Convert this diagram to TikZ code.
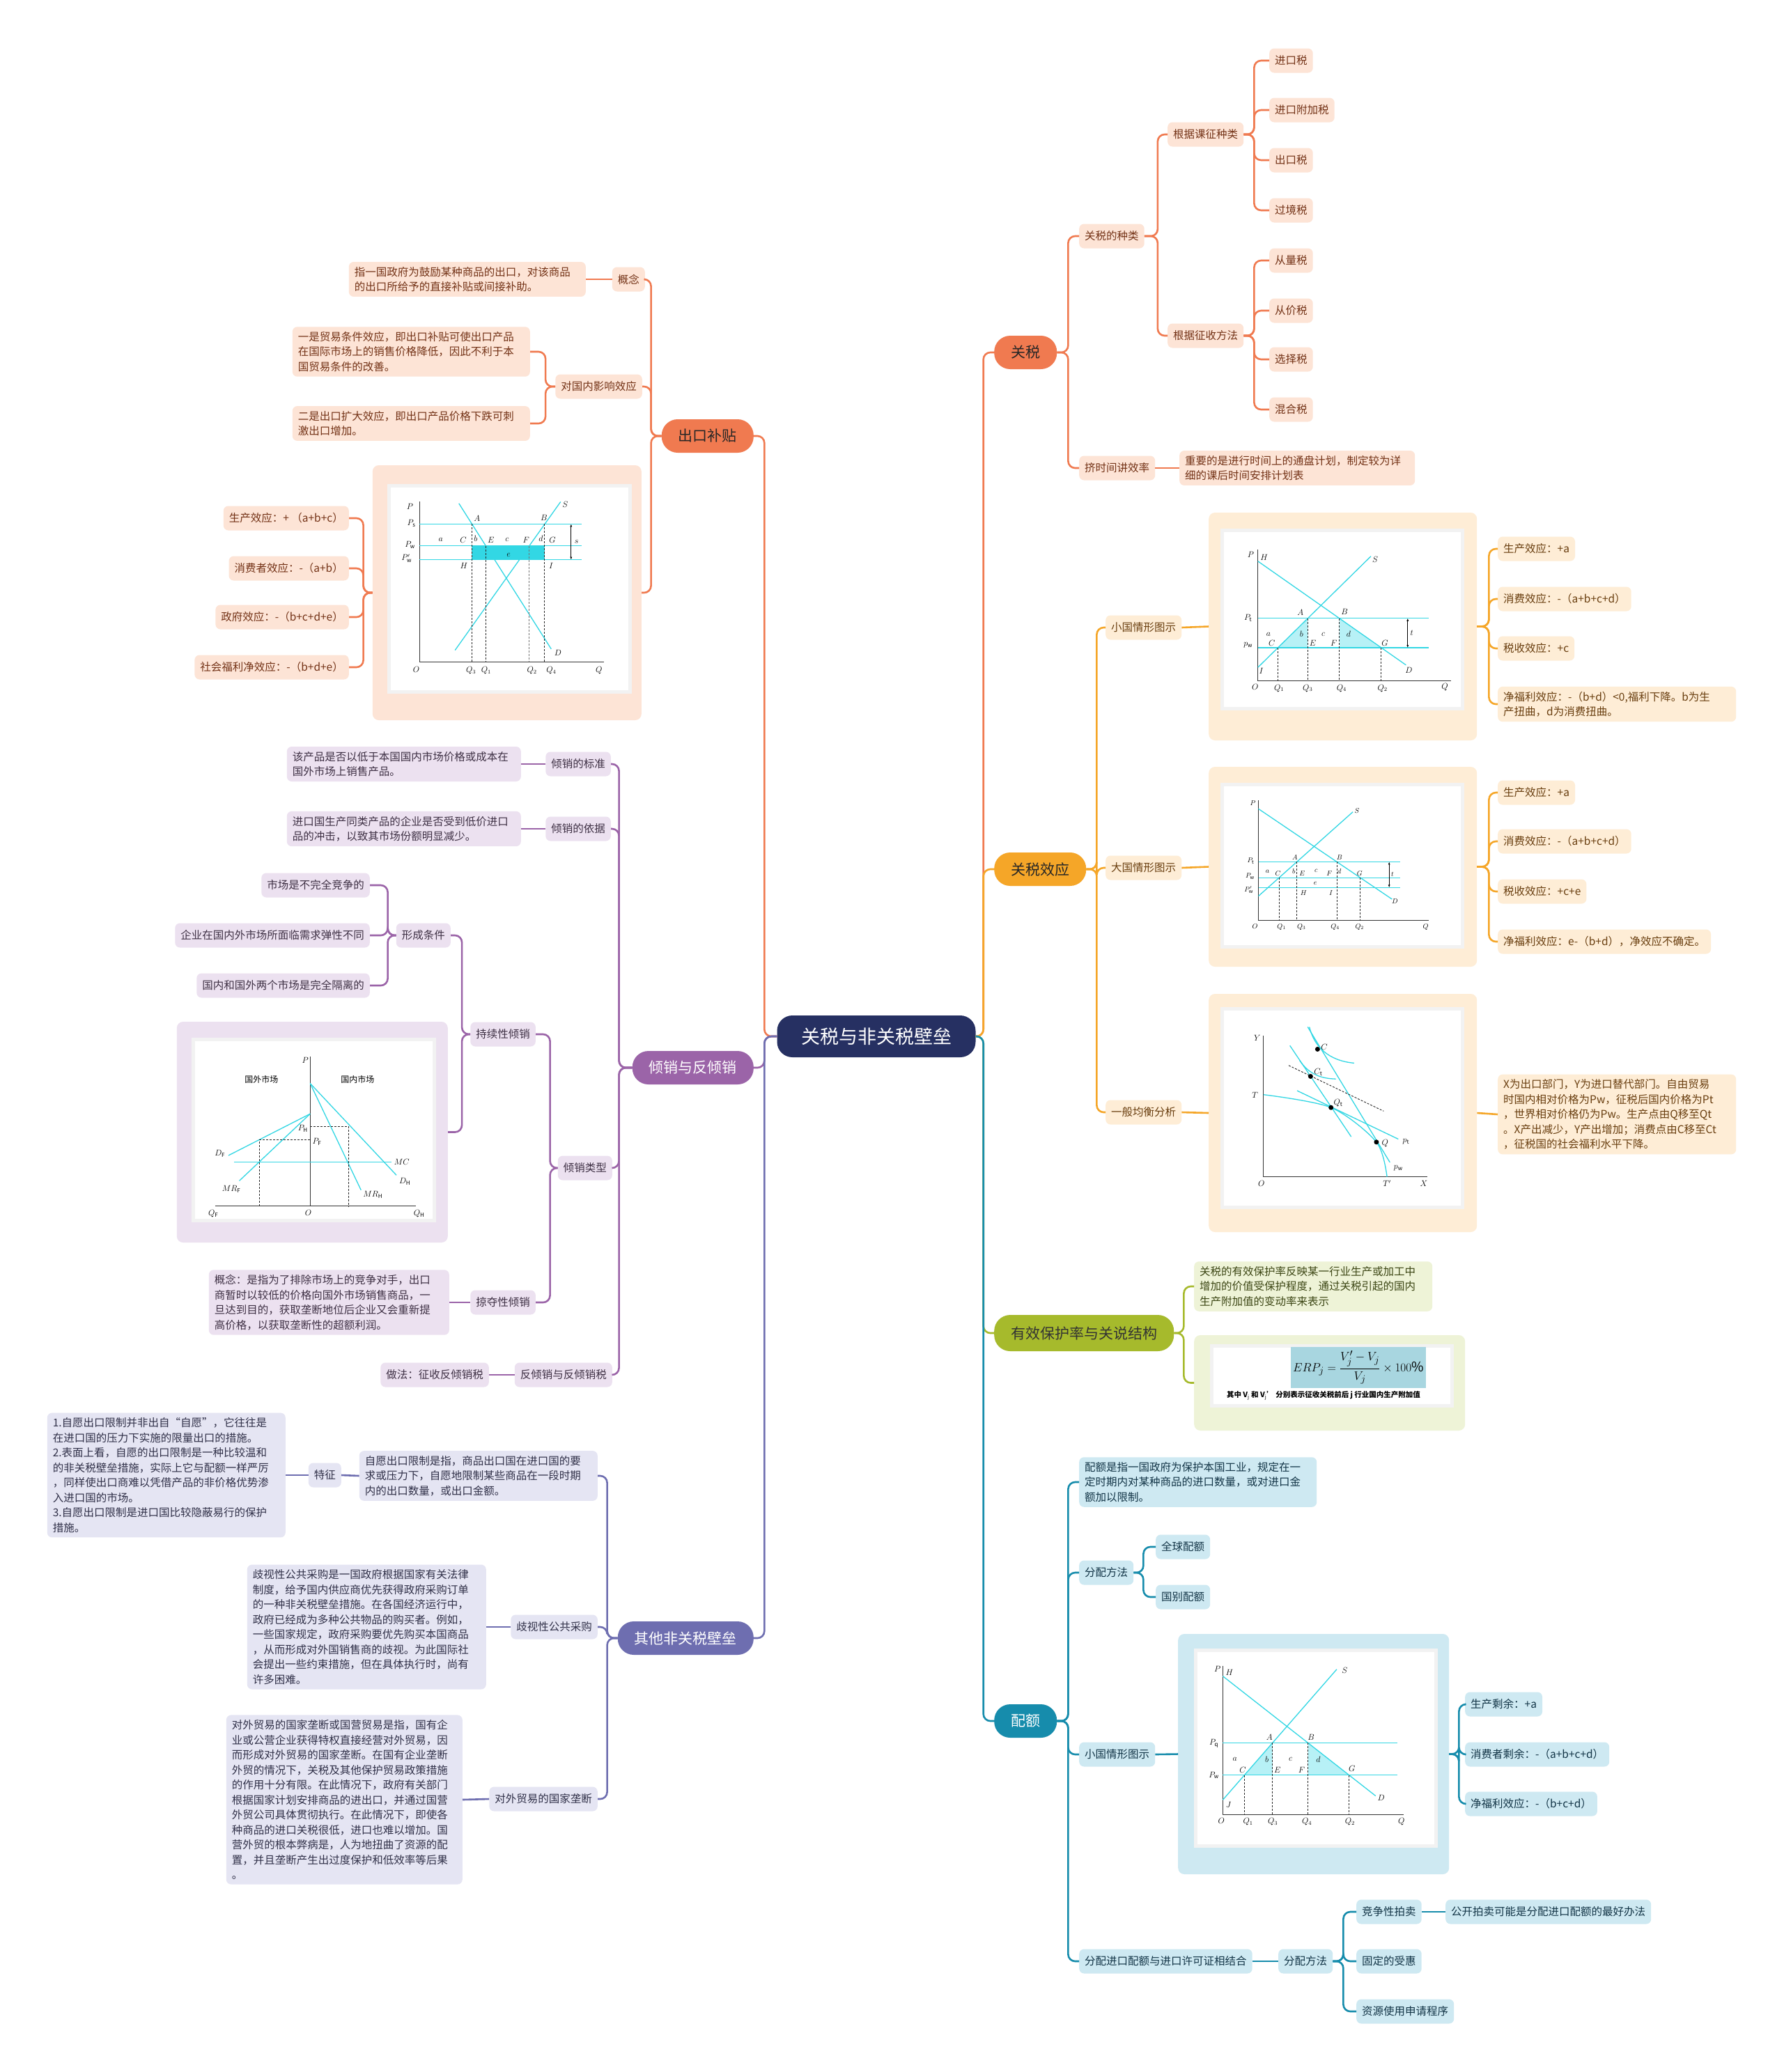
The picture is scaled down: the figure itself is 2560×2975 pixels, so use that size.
\documentclass[tikz,border=0pt]{standalone}
\usepackage{amsmath}
\usepackage{fontspec}
\setmainfont{Noto Sans CJK SC}
\usetikzlibrary{arrows.meta}
\XeTeXlinebreaklocale "zh"
\XeTeXlinebreakskip = 0pt plus 1pt
\definecolor{rootblue}{RGB}{38,48,98}
\definecolor{ckorange}{RGB}{240,122,80}
\definecolor{cklight}{RGB}{253,228,214}
\definecolor{ckdark}{RGB}{115,50,22}
\definecolor{xyorange}{RGB}{245,166,40}
\definecolor{xylight}{RGB}{254,237,214}
\definecolor{xydark}{RGB}{105,62,15}
\definecolor{yxgreen}{RGB}{166,186,44}
\definecolor{yxlight}{RGB}{238,243,215}
\definecolor{yxdark}{RGB}{60,70,20}
\definecolor{peteal}{RGB}{22,140,172}
\definecolor{pelight}{RGB}{206,233,242}
\definecolor{pedark}{RGB}{18,52,70}
\definecolor{qxpurple}{RGB}{155,100,168}
\definecolor{qxlight}{RGB}{236,225,240}
\definecolor{qxdark}{RGB}{62,48,68}
\definecolor{qtslate}{RGB}{110,110,176}
\definecolor{qtlight}{RGB}{229,229,243}
\definecolor{qtdark}{RGB}{48,48,72}
\definecolor{chartcyan}{RGB}{50,215,228}
\definecolor{fmlblue}{RGB}{168,214,224}
\newcommand{\rootfs}{\fontsize{27pt}{30pt}\selectfont}
\newcommand{\mainfs}{\fontsize{21pt}{24pt}\selectfont}
\newcommand{\subfs}{\fontsize{15.5pt}{21.5pt}\selectfont}
\newcommand{\chartfs}{\fontsize{12pt}{12pt}\selectfont}
\newcommand{\tinychartfs}{\fontsize{10pt}{10pt}\selectfont}

\begin{document}
\begin{tikzpicture}[
    x=1pt, y=-1pt,
    rootnode/.style={rectangle,rounded corners=22,fill=rootblue,text=white,font=\rootfs,
      minimum width=285,minimum height=60},
    mainnode/.style={rectangle,rounded corners=23,font=\mainfs,minimum height=48,inner xsep=24},
    subnode/.style={rectangle,rounded corners=7,font=\subfs,minimum height=35,inner xsep=8,inner ysep=6},
    note/.style={subnode,align=left,inner ysep=7},
    chartbox/.style={rectangle,rounded corners=9},
    imgnode/.style={rectangle,fill=white,draw=gray!10,line width=5,anchor=north west},
    ckmain/.style={mainnode,fill=ckorange,text=black!85},
    cksub/.style={subnode,fill=cklight,text=ckdark},
    cknote/.style={note,fill=cklight,text=ckdark},
    ckline/.style={draw=ckorange,line width=2.6,rounded corners=10},
    xymain/.style={mainnode,fill=xyorange,text=black!85},
    xysub/.style={subnode,fill=xylight,text=xydark},
    xynote/.style={note,fill=xylight,text=xydark},
    xyline/.style={draw=xyorange,line width=2.6,rounded corners=10},
    yxmain/.style={mainnode,fill=yxgreen,text=black!80},
    yxnote/.style={note,fill=yxlight,text=yxdark},
    yxline/.style={draw=yxgreen,line width=2.6,rounded corners=10},
    pemain/.style={mainnode,fill=peteal,text=white},
    pesub/.style={subnode,fill=pelight,text=pedark},
    penote/.style={note,fill=pelight,text=pedark},
    peline/.style={draw=peteal,line width=2.6,rounded corners=10},
    qxmain/.style={mainnode,fill=qxpurple,text=white},
    qxsub/.style={subnode,fill=qxlight,text=qxdark},
    qxnote/.style={note,fill=qxlight,text=qxdark},
    qxline/.style={draw=qxpurple,line width=2.6,rounded corners=10},
    qtmain/.style={mainnode,fill=qtslate,text=white},
    qtsub/.style={subnode,fill=qtlight,text=qtdark},
    qtnote/.style={note,fill=qtlight,text=qtdark},
    qtline/.style={draw=qtslate,line width=2.6,rounded corners=10},
    cyanline/.style={draw=chartcyan,line width=1.3},
    axisline/.style={draw=black!80,line width=0.9},
    guide/.style={draw=black!85,densely dashed,line width=0.9},
    tarrow/.style={{Latex[length=4pt,width=3pt]}-{Latex[length=4pt,width=3pt]},line width=0.7},
    lbl/.style={font=\chartfs,inner sep=0.5},
    lbls/.style={font=\tinychartfs,inner sep=0.5}
  ]
    \useasboundingbox (0,0) rectangle (2560,2975);
    \fill[white] (0,0) rectangle (2560,2975);

    % root and main branches
    \node[rootnode] (root) at (1258,1488) {关税与非关税壁垒};
    \node[ckmain,anchor=east] (ck) at (1082,626) {出口补贴};
    \node[qxmain,anchor=east] (qx) at (1082,1533) {倾销与反倾销};
    \node[qtmain,anchor=east] (qt) at (1082,2352) {其他非关税壁垒};
    \node[ckmain,anchor=west] (gs) at (1427,506) {关税};
    \node[xymain,anchor=west] (xy) at (1427,1248) {关税效应};
    \node[yxmain,anchor=west,minimum height=52] (yx) at (1427,1914) {有效保护率与关说结构};
    \node[pemain,anchor=west] (pe) at (1427,2471) {配额};

    \draw[ckline] (root.west) -- ++(-18,0) |- (ck.east);
    \draw[qxline] (root.west) -- ++(-18,0) |- (qx.east);
    \draw[qtline] (root.west) -- ++(-18,0) |- (qt.east);
    \draw[ckline] (root.east) -- ++(11,0) |- (gs.west);
    \draw[xyline] (root.east) -- ++(11,0) |- (xy.west);
    \draw[yxline] (root.east) -- ++(11,0) |- (yx.west);
    \draw[peline] (root.east) -- ++(11,0) |- (pe.west);

    % 出口补贴
    \node[cksub,anchor=east] (ckgn) at (926,401) {概念};
    \node[cknote,anchor=east,text width=324] (ckgntxt) at (841,401) {指一国政府为鼓励某种商品的出口，对该商品\\的出口所给予的直接补贴或间接补助。};
    \node[cksub,anchor=east] (ckyx) at (922,555) {对国内影响效应};
    \node[cknote,anchor=east,text width=325] (ckyx1) at (761,505) {一是贸易条件效应，即出口补贴可使出口产品\\在国际市场上的销售价格降低，因此不利于本\\国贸易条件的改善。};
    \node[cknote,anchor=east,text width=325] (ckyx2) at (761,608) {二是出口扩大效应，即出口产品价格下跌可刺\\激出口增加。};
    \node[chartbox,fill=cklight,minimum width=386,minimum height=366,anchor=east] (ckchart) at (921,851) {};
    \node[imgnode,minimum width=346,minimum height=296] (btimg) at (556,695) {};
    \node[cksub,anchor=east] (ckxg1) at (501,744) {生产效应：+ （a+b+c）};
    \node[cksub,anchor=east] (ckxg2) at (501,816) {消费者效应：-（a+b）};
    \node[cksub,anchor=east] (ckxg3) at (501,886) {政府效应：-（b+c+d+e）};
    \node[cksub,anchor=east] (ckxg4) at (501,958) {社会福利净效应：-（b+d+e）};

    \draw[ckline] (ck.west) -- ++(-15,0) |- (ckgn.east);
    \draw[ckline] (ck.west) -- ++(-15,0) |- (ckyx.east);
    \draw[ckline] (ck.west) -- ++(-15,0) |- (ckchart.east);
    \draw[ckline] (ckgn.west) -- (ckgntxt.east);
    \draw[ckline] (ckyx.west) -- ++(-14,0) |- (ckyx1.east);
    \draw[ckline] (ckyx.west) -- ++(-14,0) |- (ckyx2.east);
    \draw[ckline] (ckchart.west) -- ++(-13,0) |- (ckxg1.east);
    \draw[ckline] (ckchart.west) -- ++(-13,0) |- (ckxg2.east);
    \draw[ckline] (ckchart.west) -- ++(-13,0) |- (ckxg3.east);
    \draw[ckline] (ckchart.west) -- ++(-13,0) |- (ckxg4.east);

    % export subsidy chart
    \begin{scope}[shift={(556,695)},x=346pt,y=-296pt]
      \fill[chartcyan] (0.351,0.299) rectangle (0.653,0.367);
      \draw[axisline] (0.133,0.086) -- (0.133,0.863) -- (0.898,0.863);
      \draw[cyanline] (0.133,0.194) -- (0.805,0.194);
      \draw[cyanline] (0.133,0.299) -- (0.805,0.299);
      \draw[cyanline] (0.133,0.367) -- (0.805,0.367);
      \draw[cyanline] (0.297,0.094) -- (0.680,0.800);
      \draw[cyanline] (0.281,0.806) -- (0.719,0.086);
      \draw[guide] (0.351,0.194) -- (0.351,0.863);
      \draw[guide] (0.408,0.299) -- (0.408,0.863);
      \draw[guide,draw=black!55] (0.589,0.299) -- (0.589,0.863);
      \draw[guide] (0.653,0.194) -- (0.653,0.863);
      \draw[tarrow] (0.7625,0.194) -- (0.7625,0.367);
      \node[lbl] (btP) at (0.094,0.108) {$P$};
      \node[lbl] (btPs) at (0.1,0.19) {$P_{\mathrm{s}}$};
      \node[lbl] (btPw) at (0.094,0.295) {$P_{\mathrm{w}}$};
      \node[lbl] (btPv) at (0.08,0.36) {$P'_{\mathrm{w}}$};
      \node[lbl] (bta) at (0.222,0.27) {$a$};
      \node[lbl] (btC) at (0.315,0.273) {$C$};
      \node[lbl] (btb) at (0.367,0.266) {$b$};
      \node[lbl] (btE) at (0.43,0.273) {$E$};
      \node[lbl] (btc) at (0.497,0.27) {$c$};
      \node[lbl] (btF) at (0.576,0.273) {$F$};
      \node[lbl] (btd) at (0.637,0.266) {$d$};
      \node[lbl] (btG) at (0.685,0.273) {$G$};
      \node[lbl] (bte) at (0.503,0.345) {$e$};
      \node[lbl] (btH) at (0.318,0.395) {$H$};
      \node[lbl] (btI) at (0.68,0.395) {$I$};
      \node[lbl] (btA) at (0.372,0.168) {$A$};
      \node[lbl] (btB) at (0.65,0.165) {$B$};
      \node[lbl] (btS) at (0.738,0.1) {$S$};
      \node[lbl] (btD) at (0.708,0.82) {$D$};
      \node[lbl] (bts) at (0.785,0.28) {$s$};
      \node[lbl] (btO) at (0.12,0.9) {$O$};
      \node[lbl] (btQc) at (0.347,0.905) {$Q_3$};
      \node[lbl] (btQa) at (0.41,0.905) {$Q_1$};
      \node[lbl] (btQb) at (0.6,0.905) {$Q_2$};
      \node[lbl] (btQd) at (0.68,0.905) {$Q_4$};
      \node[lbl] (btQ) at (0.878,0.905) {$Q$};
    \end{scope}

    % 倾销与反倾销
    \node[qxsub,anchor=east] (qxbz) at (877,1097) {倾销的标准};
    \node[qxnote,anchor=east,text width=320] (qxbztxt) at (748,1097) {该产品是否以低于本国国内市场价格或成本在\\国外市场上销售产品。};
    \node[qxsub,anchor=east] (qxyj) at (877,1190) {倾销的依据};
    \node[qxnote,anchor=east,text width=320] (qxyjtxt) at (748,1190) {进口国生产同类产品的企业是否受到低价进口\\品的冲击，以致其市场份额明显减少。};
    \node[qxsub,anchor=east] (qxlx) at (879,1677) {倾销类型};
    \node[qxsub,anchor=east] (cx) at (769,1485) {持续性倾销};
    \node[qxsub,anchor=east] (xc) at (647,1343) {形成条件};
    \node[qxsub,anchor=east] (xc1) at (531,1271) {市场是不完全竞争的};
    \node[qxsub,anchor=east] (xc2) at (531,1343) {企业在国内外市场所面临需求弹性不同};
    \node[qxsub,anchor=east] (xc3) at (531,1415) {国内和国外两个市场是完全隔离的};
    \node[chartbox,fill=qxlight,minimum width=389,minimum height=317,anchor=east] (qxchart) at (643,1625.5) {};
    \node[imgnode,minimum width=346,minimum height=260] (qxtimg) at (275,1490) {};
    \node[qxsub,anchor=east] (ld) at (769,1870) {掠夺性倾销};
    \node[qxnote,anchor=east,text width=329] (ldtxt) at (645,1870) {概念：是指为了排除市场上的竞争对手，出口\\商暂时以较低的价格向国外市场销售商品，一\\旦达到目的，获取垄断地位后企业又会重新提\\高价格，以获取垄断性的超额利润。};
    \node[qxsub,anchor=east] (fqx) at (879,1974) {反倾销与反倾销税};
    \node[qxsub,anchor=east] (fqxtxt) at (702,1974) {做法：征收反倾销税};

    \draw[qxline] (qx.west) -- ++(-19,0) |- (qxbz.east);
    \draw[qxline] (qx.west) -- ++(-19,0) |- (qxyj.east);
    \draw[qxline] (qx.west) -- ++(-19,0) |- (qxlx.east);
    \draw[qxline] (qx.west) -- ++(-19,0) |- (fqx.east);
    \draw[qxline] (qxbz.west) -- (qxbztxt.east);
    \draw[qxline] (qxyj.west) -- (qxyjtxt.east);
    \draw[qxline] (qxlx.west) -- ++(-11,0) |- (cx.east);
    \draw[qxline] (qxlx.west) -- ++(-11,0) |- (ld.east);
    \draw[qxline] (cx.west) -- ++(-12,0) |- (xc.east);
    \draw[qxline] (cx.west) -- ++(-12,0) |- (qxchart.east);
    \draw[qxline] (xc.west) -- ++(-12,0) |- (xc1.east);
    \draw[qxline] (xc.west) -- ++(-12,0) |- (xc2.east);
    \draw[qxline] (xc.west) -- ++(-12,0) |- (xc3.east);
    \draw[qxline] (ld.west) -- (ldtxt.east);
    \draw[qxline] (fqx.west) -- (fqxtxt.east);

    % dumping chart
    \begin{scope}[shift={(275,1490)},x=346pt,y=-260pt]
      \draw[axisline] (0.492,0.105) -- (0.492,0.93);
      \draw[axisline] (0.097,0.93) -- (0.93,0.93);
      \draw[cyanline] (0.492,0.252) -- (0.850,0.759);
      \draw[cyanline] (0.492,0.252) -- (0.703,0.841);
      \draw[cyanline] (0.177,0.687) -- (0.83,0.687);
      \draw[cyanline] (0.153,0.65) -- (0.492,0.42);
      \draw[cyanline] (0.198,0.79) -- (0.492,0.42);
      \draw[guide] (0.492,0.49) -- (0.653,0.49) -- (0.653,0.93);
      \draw[guide] (0.282,0.93) -- (0.282,0.563) -- (0.492,0.563);
      \node[lbl] (qxtP) at (0.472,0.125) {$P$};
      \node[lbl] (qxtgw) at (0.29,0.229) {国外市场};
      \node[lbl] (qxtgn) at (0.689,0.229) {国内市场};
      \node[lbl] (qxtDF) at (0.118,0.64) {$D_{\mathrm{F}}$};
      \node[lbl] (qxtMRF) at (0.165,0.836) {$MR_{\mathrm{F}}$};
      \node[lbl] (qxtPH) at (0.462,0.5) {$P_{\mathrm{H}}$};
      \node[lbl] (qxtPF) at (0.52,0.575) {$P_{\mathrm{F}}$};
      \node[lbl] (qxtMC) at (0.872,0.687) {$MC$};
      \node[lbl] (qxtDH) at (0.885,0.794) {$D_{\mathrm{H}}$};
      \node[lbl] (qxtMRH) at (0.752,0.866) {$MR_{\mathrm{H}}$};
      \node[lbl] (qxtQF) at (0.09,0.972) {$Q_{\mathrm{F}}$};
      \node[lbl] (qxtO) at (0.484,0.967) {$O$};
      \node[lbl] (qxtQH) at (0.944,0.972) {$Q_{\mathrm{H}}$};
    \end{scope}

    % 其他非关税壁垒
    \node[qtnote,anchor=east,text width=326] (zy) at (858,2119) {自愿出口限制是指，商品出口国在进口国的要\\求或压力下，自愿地限制某些商品在一段时期\\内的出口数量，或出口金额。};
    \node[qtsub,anchor=east] (tz) at (490,2118) {特征};
    \node[qtnote,anchor=east,text width=326] (tztxt) at (410,2118) {1.自愿出口限制并非出自“自愿”，它往往是\\在进口国的压力下实施的限量出口的措施。\\2.表面上看，自愿的出口限制是一种比较温和\\的非关税壁垒措施，实际上它与配额一样严厉\\，同样使出口商难以凭借产品的非价格优势渗\\入进口国的市场。\\3.自愿出口限制是进口国比较隐蔽易行的保护\\措施。};
    \node[qtsub,anchor=east] (qs) at (858,2336) {歧视性公共采购};
    \node[qtnote,anchor=east,text width=327] (qstxt) at (698,2336) {歧视性公共采购是一国政府根据国家有关法律\\制度，给予国内供应商优先获得政府采购订单\\的一种非关税壁垒措施。在各国经济运行中，\\政府已经成为多种公共物品的购买者。例如，\\一些国家规定，政府采购要优先购买本国商品\\，从而形成对外国销售商的歧视。为此国际社\\会提出一些约束措施，但在具体执行时，尚有\\许多困难。};
    \node[qtsub,anchor=east] (gj) at (858,2583) {对外贸易的国家垄断};
    \node[qtnote,anchor=east,text width=323] (gjtxt) at (664,2584) {对外贸易的国家垄断或国营贸易是指，国有企\\业或公营企业获得特权直接经营对外贸易，因\\而形成对外贸易的国家垄断。在国有企业垄断\\外贸的情况下，关税及其他保护贸易政策措施\\的作用十分有限。在此情况下，政府有关部门\\根据国家计划安排商品的进出口，并通过国营\\外贸公司具体贯彻执行。在此情况下，即使各\\种商品的进口关税很低，进口也难以增加。国\\营外贸的根本弊病是，人为地扭曲了资源的配\\置，并且垄断产生出过度保护和低效率等后果\\。};

    \draw[qtline] (qt.west) -- ++(-15,0) |- (zy.east);
    \draw[qtline] (qt.west) -- ++(-15,0) |- (qs.east);
    \draw[qtline] (qt.west) -- ++(-15,0) |- (gj.east);
    \draw[qtline] (zy.west) -- (tz.east);
    \draw[qtline] (tz.west) -- (tztxt.east);
    \draw[qtline] (qs.west) -- (qstxt.east);
    \draw[qtline] (gj.west) -- (gjtxt.east);

    % 关税
    \node[cksub,anchor=west] (gszl) at (1549,339) {关税的种类};
    \node[cksub,anchor=west] (kz) at (1676,193) {根据课征种类};
    \node[cksub,anchor=west] (kz1) at (1822,87) {进口税};
    \node[cksub,anchor=west] (kz2) at (1822,158) {进口附加税};
    \node[cksub,anchor=west] (kz3) at (1822,230) {出口税};
    \node[cksub,anchor=west] (kz4) at (1822,302) {过境税};
    \node[cksub,anchor=west] (zs) at (1676,482) {根据征收方法};
    \node[cksub,anchor=west] (zs1) at (1822,374) {从量税};
    \node[cksub,anchor=west] (zs2) at (1822,446) {从价税};
    \node[cksub,anchor=west] (zs3) at (1822,516) {选择税};
    \node[cksub,anchor=west] (zs4) at (1822,588) {混合税};
    \node[cksub,anchor=west] (jsj) at (1549,672) {挤时间讲效率};
    \node[cknote,anchor=west,text width=322] (jsjtxt) at (1693,672) {重要的是进行时间上的通盘计划，制定较为详\\细的课后时间安排计划表};

    \draw[ckline] (gs.east) -- ++(16,0) |- (gszl.west);
    \draw[ckline] (gs.east) -- ++(16,0) |- (jsj.west);
    \draw[ckline] (gszl.east) -- ++(19,0) |- (kz.west);
    \draw[ckline] (gszl.east) -- ++(19,0) |- (zs.west);
    \draw[ckline] (kz.east) -- ++(15,0) |- (kz1.west);
    \draw[ckline] (kz.east) -- ++(15,0) |- (kz2.west);
    \draw[ckline] (kz.east) -- ++(15,0) |- (kz3.west);
    \draw[ckline] (kz.east) -- ++(15,0) |- (kz4.west);
    \draw[ckline] (zs.east) -- ++(15,0) |- (zs1.west);
    \draw[ckline] (zs.east) -- ++(15,0) |- (zs2.west);
    \draw[ckline] (zs.east) -- ++(15,0) |- (zs3.west);
    \draw[ckline] (zs.east) -- ++(15,0) |- (zs4.west);
    \draw[ckline] (jsj.east) -- (jsjtxt.west);

    % 关税效应
    \node[xysub,anchor=west] (xgt) at (1587,901) {小国情形图示};
    \node[chartbox,fill=xylight,minimum width=385,minimum height=327,anchor=west] (xgchart) at (1735,899.5) {};
    \node[imgnode,minimum width=345,minimum height=256] (xgimg) at (1752,759) {};
    \node[xysub,anchor=west] (xg1) at (2150,788) {生产效应：+a};
    \node[xysub,anchor=west] (xg2) at (2150,860) {消费效应：-（a+b+c+d）};
    \node[xysub,anchor=west] (xg3) at (2150,931) {税收效应：+c};
    \node[xynote,anchor=west,text width=326] (xg4) at (2150,1011) {净福利效应：-（b+d）<0,福利下降。b为生\\产扭曲，d为消费扭曲。};
    \node[xysub,anchor=west] (dgt) at (1587,1246) {大国情形图示};
    \node[chartbox,fill=xylight,minimum width=385,minimum height=287,anchor=west] (dgchart) at (1735,1244.5) {};
    \node[imgnode,minimum width=345,minimum height=233] (dgimg) at (1752,1124) {};
    \node[xysub,anchor=west] (dg1) at (2150,1138) {生产效应：+a};
    \node[xysub,anchor=west] (dg2) at (2150,1208) {消费效应：-（a+b+c+d）};
    \node[xysub,anchor=west] (dg3) at (2150,1280) {税收效应：+c+e};
    \node[xysub,anchor=west] (dg4) at (2150,1352) {净福利效应：e-（b+d），净效应不确定。};
    \node[xysub,anchor=west] (ybj) at (1587,1597) {一般均衡分析};
    \node[chartbox,fill=xylight,minimum width=385,minimum height=342,anchor=west] (ybchart) at (1735,1598) {};
    \node[imgnode,minimum width=345,minimum height=285] (ybimg) at (1752,1446) {};
    \node[xynote,anchor=west,text width=326] (ybtxt) at (2150,1600) {X为出口部门，Y为进口替代部门。自由贸易\\时国内相对价格为Pw，征税后国内价格为Pt\\，世界相对价格仍为Pw。生产点由Q移至Qt\\。X产出减少，Y产出增加；消费点由C移至Ct\\，征税国的社会福利水平下降。};

    \draw[xyline] (xy.east) -- ++(15,0) |- (xgt.west);
    \draw[xyline] (xy.east) -- ++(15,0) |- (dgt.west);
    \draw[xyline] (xy.east) -- ++(15,0) |- (ybj.west);
    \draw[xyline] (xgt.east) -- (xgchart.west);
    \draw[xyline] (dgt.east) -- (dgchart.west);
    \draw[xyline] (ybj.east) -- (ybchart.west);
    \draw[xyline] (xgchart.east) -- ++(17,0) |- (xg1.west);
    \draw[xyline] (xgchart.east) -- ++(17,0) |- (xg2.west);
    \draw[xyline] (xgchart.east) -- ++(17,0) |- (xg3.west);
    \draw[xyline] (xgchart.east) -- ++(17,0) |- (xg4.west);
    \draw[xyline] (dgchart.east) -- ++(17,0) |- (dg1.west);
    \draw[xyline] (dgchart.east) -- ++(17,0) |- (dg2.west);
    \draw[xyline] (dgchart.east) -- ++(17,0) |- (dg3.west);
    \draw[xyline] (dgchart.east) -- ++(17,0) |- (dg4.west);
    \draw[xyline] (ybchart.east) -- (ybtxt.west);

    % small country tariff chart
    \begin{scope}[shift={(1752,759)},x=345pt,y=-256pt]
      \fill[chartcyan!35] (0.239,0.668) -- (0.3635,0.503) -- (0.3635,0.668) -- cycle;
      \fill[chartcyan!35] (0.495,0.503) -- (0.495,0.668) -- (0.669,0.668) -- cycle;
      \draw[axisline] (0.156,0.118) -- (0.156,0.854) -- (0.96,0.854);
      \draw[cyanline] (0.156,0.503) -- (0.868,0.503);
      \draw[cyanline] (0.156,0.668) -- (0.868,0.668);
      \draw[cyanline] (0.156,0.183) -- (0.772,0.765);
      \draw[cyanline] (0.156,0.778) -- (0.626,0.155);
      \draw[guide] (0.239,0.668) -- (0.239,0.854);
      \draw[guide] (0.3635,0.503) -- (0.3635,0.854);
      \draw[guide] (0.495,0.503) -- (0.495,0.854);
      \draw[guide] (0.669,0.668) -- (0.669,0.854);
      \draw[tarrow] (0.779,0.503) -- (0.779,0.668);
      \node[lbl] (xgP) at (0.126,0.146) {$P$};
      \node[lbl] (xgH) at (0.182,0.162) {$H$};
      \node[lbl] (xgS) at (0.644,0.175) {$S$};
      \node[lbl] (xgA) at (0.333,0.471) {$A$};
      \node[lbl] (xgB) at (0.516,0.466) {$B$};
      \node[lbl] (xgPt) at (0.115,0.503) {$P_{\mathrm{t}}$};
      \node[lbl] (xgt) at (0.796,0.587) {$t$};
      \node[lbl] (xga) at (0.2,0.595) {$a$};
      \node[lbl] (xgb) at (0.337,0.592) {$b$};
      \node[lbl] (xgc) at (0.428,0.595) {$c$};
      \node[lbl] (xgd) at (0.533,0.592) {$d$};
      \node[lbl] (xgPw) at (0.115,0.652) {$p_{\mathrm{w}}$};
      \node[lbl] (xgC) at (0.214,0.644) {$C$};
      \node[lbl] (xgE) at (0.384,0.641) {$E$};
      \node[lbl] (xgF) at (0.472,0.641) {$F$};
      \node[lbl] (xgG) at (0.684,0.641) {$G$};
      \node[lbl] (xgI) at (0.17,0.798) {$I$};
      \node[lbl] (xgD) at (0.784,0.793) {$D$};
      \node[lbl] (xgO) at (0.144,0.89) {$O$};
      \node[lbl] (xgQa) at (0.244,0.895) {$Q_1$};
      \node[lbl] (xgQc) at (0.363,0.895) {$Q_3$};
      \node[lbl] (xgQd) at (0.504,0.895) {$Q_4$};
      \node[lbl] (xgQb) at (0.674,0.895) {$Q_2$};
      \node[lbl] (xgQ) at (0.933,0.89) {$Q$};
    \end{scope}

    % large country tariff chart
    \begin{scope}[shift={(1752,1124)},x=345pt,y=-233pt]
      \draw[axisline] (0.158,0.109) -- (0.158,0.849) -- (0.868,0.849);
      \draw[cyanline] (0.158,0.16) -- (0.714,0.717);
      \draw[cyanline] (0.158,0.698) -- (0.551,0.179);
      \draw[cyanline] (0.158,0.487) -- (0.749,0.487);
      \draw[cyanline] (0.158,0.585) -- (0.749,0.585);
      \draw[cyanline] (0.158,0.645) -- (0.749,0.645);
      \draw[guide] (0.244,0.585) -- (0.244,0.849);
      \draw[guide] (0.318,0.487) -- (0.318,0.849);
      \draw[guide] (0.484,0.487) -- (0.484,0.849);
      \draw[guide] (0.582,0.585) -- (0.582,0.849);
      \draw[tarrow] (0.702,0.487) -- (0.702,0.645);
      \node[lbls] (dgP) at (0.135,0.123) {$P$};
      \node[lbls] (dgS) at (0.568,0.17) {$S$};
      \node[lbls] (dgA) at (0.31,0.458) {$A$};
      \node[lbls] (dgB) at (0.495,0.458) {$B$};
      \node[lbls] (dgPt) at (0.126,0.481) {$P_{\mathrm{t}}$};
      \node[lbls] (dgt) at (0.716,0.562) {$t$};
      \node[lbls] (dga) at (0.196,0.547) {$a$};
      \node[lbls] (dgC) at (0.239,0.557) {$C$};
      \node[lbls] (dgb) at (0.305,0.543) {$b$};
      \node[lbls] (dgE) at (0.34,0.557) {$E$};
      \node[lbls] (dgc) at (0.398,0.543) {$c$};
      \node[lbls] (dgF) at (0.453,0.557) {$F$};
      \node[lbls] (dgd) at (0.495,0.543) {$d$};
      \node[lbls] (dgG) at (0.579,0.557) {$G$};
      \node[lbls] (dgPw) at (0.123,0.575) {$P_{\mathrm{w}}$};
      \node[lbls] (dge) at (0.395,0.619) {$e$};
      \node[lbls] (dgPv) at (0.118,0.66) {$P'_{\mathrm{w}}$};
      \node[lbls] (dgH) at (0.346,0.679) {$H$};
      \node[lbls] (dgI) at (0.46,0.679) {$I$};
      \node[lbls] (dgD) at (0.726,0.732) {$D$};
      \node[lbls] (dgO) at (0.144,0.883) {$O$};
      \node[lbls] (dgQa) at (0.254,0.887) {$Q_1$};
      \node[lbls] (dgQc) at (0.337,0.887) {$Q_3$};
      \node[lbls] (dgQd) at (0.477,0.887) {$Q_4$};
      \node[lbls] (dgQb) at (0.579,0.887) {$Q_2$};
      \node[lbls] (dgQ) at (0.854,0.887) {$Q$};
    \end{scope}

    % general equilibrium chart
    \begin{scope}[shift={(1752,1446)},x=345pt,y=-285pt]
      \draw[axisline] (0.179,0.145) -- (0.179,0.855) -- (0.86,0.855);
      \draw[cyanline] plot[smooth] coordinates {(0.179,0.441) (0.46,0.506) (0.649,0.68) (0.693,0.855)};
      \draw[cyanline] (0.319,0.421) -- (0.74,0.665);
      \draw[cyanline] (0.363,0.1) -- (0.705,0.782);
      \draw[cyanline] (0.289,0.194) -- (0.544,0.653);
      \draw[cyanline] (0.37,0.1) .. controls (0.39,0.2) and (0.45,0.27) .. (0.556,0.282);
      \draw[cyanline] (0.33,0.27) .. controls (0.37,0.34) and (0.42,0.36) .. (0.48,0.362);
      \draw[guide,densely dashed] (0.284,0.294) -- (0.679,0.524);
      \fill (0.404,0.212) circle (3.5pt);
      \fill (0.375,0.349) circle (3.5pt);
      \fill (0.46,0.506) circle (3.5pt);
      \fill (0.649,0.68) circle (3.5pt);
      \node[lbl] (ybY) at (0.153,0.156) {$Y$};
      \node[lbl] (ybT) at (0.144,0.444) {$T$};
      \node[lbl] (ybC) at (0.432,0.2) {$C$};
      \node[lbl] (ybCt) at (0.407,0.329) {$C_{\mathrm{t}}$};
      \node[lbl] (ybQt) at (0.49,0.482) {$Q_{\mathrm{t}}$};
      \node[lbl] (ybQ) at (0.685,0.686) {$Q$};
      \node[lbl] (ybpt) at (0.772,0.679) {$p_{\mathrm{t}}$};
      \node[lbl] (ybpw) at (0.74,0.812) {$p_{\mathrm{w}}$};
      \node[lbl] (ybO) at (0.17,0.888) {$O$};
      \node[lbl] (ybTp) at (0.693,0.888) {$T'$};
      \node[lbl] (ybX) at (0.846,0.888) {$X$};
    \end{scope}

    % 有效保护率与关说结构
    \node[yxnote,anchor=west,text width=326] (yxtxt) at (1714,1847) {关税的有效保护率反映某一行业生产或加工中\\增加的价值受保护程度，通过关税引起的国内\\生产附加值的变动率来表示};
    \node[chartbox,fill=yxlight,minimum width=389,minimum height=137,anchor=west] (yxgs) at (1714,1985.5) {};
    \node[imgnode,minimum width=345,minimum height=86] (yximg) at (1737,1930) {};
    \node[rectangle,fill=fmlblue,minimum width=188,minimum height=59,font=\fontsize{19pt}{22pt}\selectfont] (yxfml) at (1950,1963.5) {$ERP_j=\dfrac{V_j'-V_j}{V_j}\times100\%$};
    \node[font=\fontsize{10.5pt}{12pt}\selectfont\bfseries,inner sep=1] (yxzs) at (1900,2004) {其中 V$_{\mathrm{j}}$ 和 V$_{\mathrm{j}}$’ 分别表示征收关税前后 j 行业国内生产附加值};

    \draw[yxline] (yx.east) -- ++(14,0) |- (yxtxt.west);
    \draw[yxline] (yx.east) -- ++(14,0) |- (yxgs.west);

    % 配额
    \node[penote,anchor=west,text width=325] (petxt) at (1549,2128) {配额是指一国政府为保护本国工业，规定在一\\定时期内对某种商品的进口数量，或对进口金\\额加以限制。};
    \node[pesub,anchor=west] (fp) at (1549,2258) {分配方法};
    \node[pesub,anchor=west] (fp1) at (1659,2221) {全球配额};
    \node[pesub,anchor=west] (fp2) at (1659,2293) {国别配额};
    \node[pesub,anchor=west] (pxgt) at (1549,2519) {小国情形图示};
    \node[chartbox,fill=pelight,minimum width=389,minimum height=345,anchor=west] (pqchart) at (1691,2518.5) {};
    \node[imgnode,minimum width=345,minimum height=281] (pqimg) at (1714,2367) {};
    \node[pesub,anchor=west] (pq1) at (2103,2447) {生产剩余：+a};
    \node[pesub,anchor=west] (pq2) at (2103,2519) {消费者剩余：-（a+b+c+d）};
    \node[pesub,anchor=west] (pq3) at (2103,2590) {净福利效应：-（b+c+d）};
    \node[pesub,anchor=west] (fpjh) at (1549,2816) {分配进口配额与进口许可证相结合};
    \node[pesub,anchor=west] (fpff) at (1835,2816) {分配方法};
    \node[pesub,anchor=west] (jz) at (1947,2745) {竞争性拍卖};
    \node[pesub,anchor=west] (jztxt) at (2075,2745) {公开拍卖可能是分配进口配额的最好办法};
    \node[pesub,anchor=west] (gd) at (1947,2816) {固定的受惠};
    \node[pesub,anchor=west] (zyy) at (1947,2888) {资源使用申请程序};

    \draw[peline] (pe.east) -- ++(16,0) |- (petxt.west);
    \draw[peline] (pe.east) -- ++(16,0) |- (fp.west);
    \draw[peline] (pe.east) -- ++(16,0) |- (pxgt.west);
    \draw[peline] (pe.east) -- ++(16,0) |- (fpjh.west);
    \draw[peline] (fp.east) -- ++(14,0) |- (fp1.west);
    \draw[peline] (fp.east) -- ++(14,0) |- (fp2.west);
    \draw[peline] (pxgt.east) -- (pqchart.west);
    \draw[peline] (pqchart.east) -- ++(14,0) |- (pq1.west);
    \draw[peline] (pqchart.east) -- ++(14,0) |- (pq2.west);
    \draw[peline] (pqchart.east) -- ++(14,0) |- (pq3.west);
    \draw[peline] (fpjh.east) -- (fpff.west);
    \draw[peline] (fpff.east) -- ++(15,0) |- (jz.west);
    \draw[peline] (fpff.east) -- ++(15,0) |- (gd.west);
    \draw[peline] (fpff.east) -- ++(15,0) |- (zyy.west);
    \draw[peline] (jz.east) -- (jztxt.west);

    % quota chart
    \begin{scope}[shift={(1714,2367)},x=345pt,y=-281pt]
      \fill[chartcyan!35] (0.21,0.647) -- (0.327,0.482) -- (0.327,0.647) -- cycle;
      \fill[chartcyan!35] (0.474,0.482) -- (0.474,0.647) -- (0.646,0.647) -- cycle;
      \draw[axisline] (0.12,0.09) -- (0.12,0.847) -- (0.871,0.847);
      \draw[cyanline] (0.12,0.141) -- (0.756,0.753);
      \draw[cyanline] (0.12,0.773) -- (0.594,0.106);
      \draw[cyanline] (0.12,0.482) -- (0.845,0.482);
      \draw[cyanline] (0.12,0.647) -- (0.845,0.647);
      \draw[guide] (0.21,0.647) -- (0.21,0.847);
      \draw[guide] (0.327,0.482) -- (0.327,0.847);
      \draw[guide] (0.474,0.482) -- (0.474,0.847);
      \draw[guide] (0.646,0.647) -- (0.646,0.847);
      \node[lbl] (pqP) at (0.098,0.106) {$P$};
      \node[lbl] (pqH) at (0.148,0.124) {$H$};
      \node[lbl] (pqS) at (0.627,0.112) {$S$};
      \node[lbl] (pqA) at (0.314,0.452) {$A$};
      \node[lbl] (pqB) at (0.487,0.452) {$B$};
      \node[lbl] (pqPq) at (0.083,0.486) {$P_{\mathrm{q}}$};
      \node[lbl] (pqa) at (0.17,0.566) {$a$};
      \node[lbl] (pqb) at (0.303,0.566) {$b$};
      \node[lbl] (pqc) at (0.402,0.566) {$c$};
      \node[lbl] (pqd) at (0.517,0.566) {$d$};
      \node[lbl] (pqC) at (0.203,0.622) {$C$};
      \node[lbl] (pqE) at (0.347,0.622) {$E$};
      \node[lbl] (pqF) at (0.448,0.622) {$F$};
      \node[lbl] (pqG) at (0.657,0.612) {$G$};
      \node[lbl] (pqPw) at (0.083,0.647) {$P_{\mathrm{w}}$};
      \node[lbl] (pqJ) at (0.144,0.8) {$J$};
      \node[lbl] (pqD) at (0.779,0.763) {$D$};
      \node[lbl] (pqO) at (0.114,0.88) {$O$};
      \node[lbl] (pqQa) at (0.225,0.884) {$Q_1$};
      \node[lbl] (pqQc) at (0.328,0.884) {$Q_3$};
      \node[lbl] (pqQd) at (0.47,0.884) {$Q_4$};
      \node[lbl] (pqQb) at (0.649,0.884) {$Q_2$};
      \node[lbl] (pqQ) at (0.863,0.884) {$Q$};
    \end{scope}
  \end{tikzpicture}
\end{document}
